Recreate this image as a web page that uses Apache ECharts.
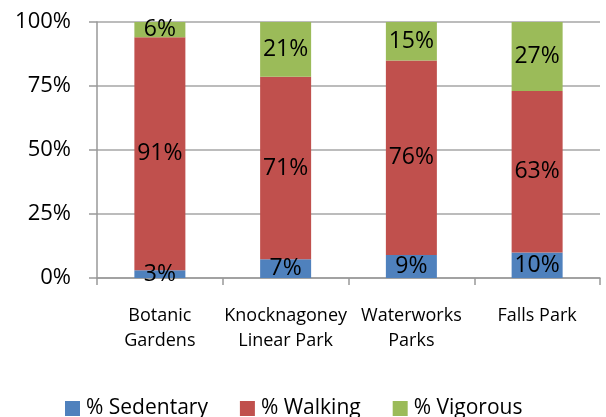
<!DOCTYPE html>
<html>
<head>
<meta charset="utf-8">
<script src="https://cdn.jsdelivr.net/npm/echarts@6/dist/echarts.min.js"></script>
<style>
  html, body { margin: 0; padding: 0; background: #fff; }
  #chart { width: 606px; height: 417px; }
</style>
</head>
<body>
<div id="chart"></div>
<script>
// parks and shares (percent)
var parks = ["Botanic\nGardens", "Knocknagoney\nLinear Park", "Waterworks\nParks", "Falls Park"];
var sedentary = [3, 7.3, 9, 10];
var walking = [91, 71.3, 76, 63];
var vigorous = [6, 21.4, 15, 27];
var yTicks = [0, 25, 50, 75, 100];

var font = "Open Sans";

function makeSeries(name, data, color) {
  return {
    name: name,
    type: 'bar',
    stack: 'all',
    barWidth: 51,
    data: data,
    itemStyle: { color: color },
    label: {
      show: true,
      position: 'inside',
      color: '#000',
      fontFamily: font,
      fontSize: 23,
      formatter: function (p) { return Math.round(p.value) + '%'; }
    }
  };
}

var myChart = echarts.init(document.getElementById('chart'));
var option = {
  animation: false,
  textStyle: { fontFamily: font },
  grid: { left: 97, right: 6, top: 22, bottom: 139 },
  legend: {
    left: 65,
    top: 398,
    padding: 0,
    itemWidth: 15,
    itemHeight: 15,
    itemGap: 32,
    icon: 'rect',
    textStyle: { fontFamily: font, fontSize: 21, color: '#000', padding: [0, 0, 0, 1] },
    data: ['% Sedentary', '% Walking', '% Vigorous']
  },
  xAxis: {
    type: 'category',
    data: parks,
    axisLine: { lineStyle: { color: '#999', width: 1.5 } },
    axisTick: { show: true, length: 7, lineStyle: { color: '#999', width: 1.5 } },
    axisLabel: { interval: 0, color: '#000', fontFamily: font, fontSize: 18, lineHeight: 25, margin: 25 }
  },
  yAxis: {
    type: 'value',
    min: yTicks[0],
    max: yTicks[yTicks.length - 1],
    interval: 25,
    axisLine: { show: true, lineStyle: { color: '#999', width: 1.5 } },
    axisTick: { show: true, length: 8, lineStyle: { color: '#999', width: 1.5 } },
    splitLine: { lineStyle: { color: '#a6a6a6', width: 1.5 } },
    axisLabel: {
      color: '#000', fontFamily: font, fontSize: 22, margin: 26,
      formatter: function (v) { return v + '%'; }
    }
  },
  series: [
    makeSeries('% Sedentary', sedentary, '#4F81BD'),
    makeSeries('% Walking', walking, '#C0504D'),
    makeSeries('% Vigorous', vigorous, '#9BBB59')
  ]
};
myChart.setOption(option);
</script>
</body>
</html>
